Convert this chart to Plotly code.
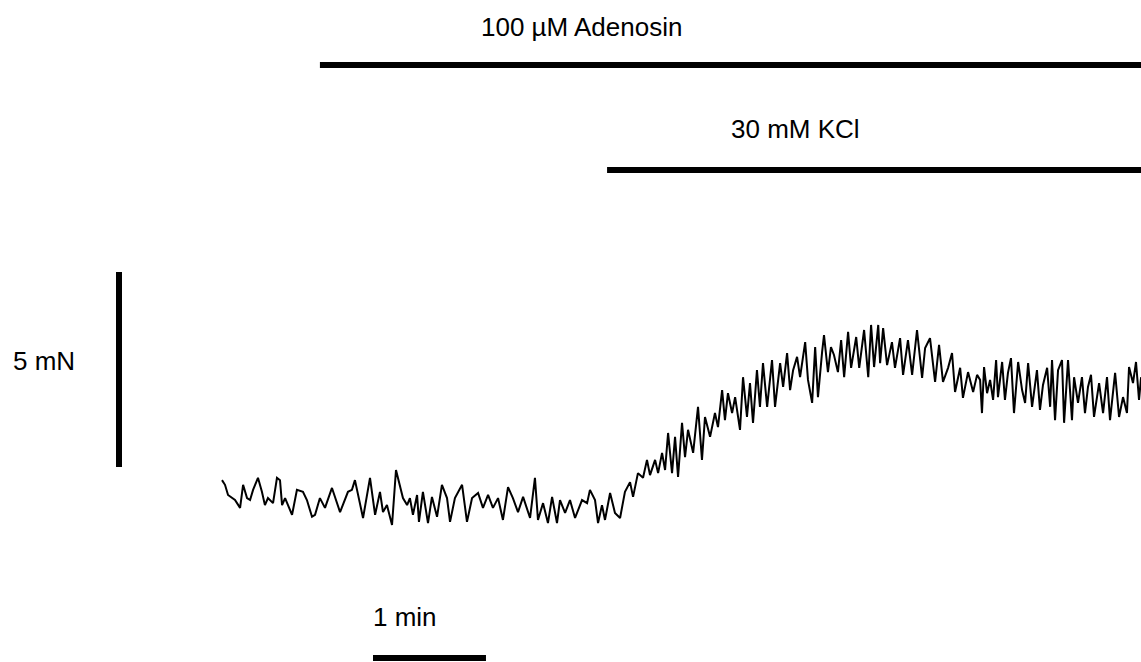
import plotly.graph_objects as go

# ---- data ----
time_s = [
    0.0, 1.6, 3.2, 5.3, 6.9, 9.6, 11.2, 13.3, 14.9, 16.5, 19.1, 21.2, 22.8, 24.4, 27.1, 29.2,
    30.8, 31.9, 33.5, 37.2, 39.8, 43.0, 45.1, 47.8, 49.4, 52.0, 54.7, 58.4, 62.7, 66.9, 69.0,
    70.6, 74.9, 78.6, 81.3, 83.9, 85.5, 87.6, 90.3, 92.4, 94.5, 96.1, 98.3, 99.8, 101.4, 103.6,
    104.6, 106.7, 109.4, 111.5, 114.2, 116.8, 119.5, 121.1, 123.7, 127.5, 130.1, 132.8, 136.0,
    138.6, 141.3, 143.9, 146.6, 149.2, 151.9, 154.5, 157.2, 159.9, 163.6, 166.2, 167.8, 170.5,
    173.1, 175.3, 177.9, 179.5, 182.2, 184.8, 187.5, 191.2, 193.9, 195.4, 198.1, 199.7, 201.8,
    203.4, 206.1, 208.7, 211.4, 214.0, 216.7, 218.3, 220.9, 223.6, 225.7, 227.3, 230.0, 231.6,
    233.7, 235.3, 236.9, 239.0, 240.6, 242.2, 244.3, 245.9, 247.5, 250.2, 252.8, 254.9, 256.5,
    259.2, 261.8, 263.4, 265.6, 267.1, 268.7, 270.9, 272.5, 275.1, 276.7, 278.8, 280.4, 282.0,
    284.1, 285.7, 287.3, 289.5, 292.1, 293.7, 296.4, 298.0, 300.1, 301.7, 303.3, 305.4, 307.0,
    309.7, 311.2, 313.4, 315.0, 316.5, 318.7, 319.7, 321.8, 323.4, 325.0, 327.1, 328.8, 330.4,
    332.5, 334.1, 336.8, 338.4, 341.0, 343.2, 344.7, 346.3, 348.5, 349.5, 351.1, 353.2, 355.8,
    357.4, 360.1, 361.7, 364.3, 366.5, 369.1, 371.8, 373.4, 376.0, 378.7, 380.8, 382.9, 385.6,
    387.7, 389.3, 392.0, 393.5, 396.2, 398.9, 401.0, 402.6, 403.6, 404.7, 406.3, 407.9, 409.5,
    411.1, 412.1, 414.3, 415.8, 417.4, 419.0, 420.6, 422.8, 424.9, 426.5, 428.1, 430.2, 432.8,
    434.4, 436.0, 438.2, 439.8, 440.8, 442.4, 444.0, 446.1, 447.2, 449.3, 451.4, 452.5, 454.6,
    456.7, 458.3, 459.9, 461.5, 463.1, 465.8, 467.9, 470.0, 471.6, 474.3, 476.4, 478.5, 480.6,
    481.7, 483.8, 485.4, 487.0, 488.1,
]
force_mN = [
    1.15, 1.03, 0.77, 0.69, 0.64, 0.44, 1.03, 0.69, 0.64, 0.90, 1.21, 0.85, 0.51, 0.69, 0.56, 1.21,
    1.15, 0.51, 0.69, 0.26, 0.90, 0.85, 0.64, 0.21, 0.26, 0.69, 0.44, 0.95, 0.33, 0.85, 0.90,
    1.15, 0.18, 1.21, 0.26, 0.85, 0.33, 0.51, 0.00, 1.41, 1.03, 0.69, 0.51, 0.69, 0.26, 0.77,
    0.08, 0.85, 0.05, 0.72, 0.21, 1.03, 0.69, 0.08, 0.69, 1.03, 0.08, 0.69, 0.82,
    0.44, 0.77, 0.44, 0.69, 0.13, 0.97, 0.69, 0.33, 0.72, 0.18, 1.21, 0.13, 0.56,
    0.05, 0.72, 0.05, 0.64, 0.31, 0.64, 0.18, 0.64, 0.56, 0.90, 0.64, 0.05, 0.51,
    0.13, 0.82, 0.31, 0.18, 0.85, 1.10, 0.72, 1.33, 1.21, 1.67, 1.28, 1.67, 1.33,
    1.85, 1.41, 2.36, 1.33, 2.26, 1.23, 2.62, 1.74, 2.44, 1.85, 3.03, 1.67, 2.77,
    2.26, 2.87, 2.51, 3.46, 2.69, 3.38, 2.87, 3.28, 2.44, 3.79, 2.77, 3.64, 2.62,
    3.97, 3.03, 4.15, 3.03, 4.23, 3.03, 4.15, 3.54, 4.41, 3.46, 3.97, 4.31, 3.79,
    4.69, 3.72, 3.13, 4.56, 3.28, 4.44, 4.87, 3.92, 4.56, 4.36, 3.92, 4.74, 3.79,
    4.95, 4.03, 4.82, 4.03, 5.00, 3.79, 5.13, 4.05, 5.13, 4.15, 5.05, 4.10, 4.69,
    4.03, 4.79, 3.85, 4.74, 3.85, 5.00, 3.77, 4.54, 4.79, 3.67, 4.62, 3.67, 4.03,
    4.41, 3.41, 4.03, 3.26, 3.92, 3.41, 3.85, 3.72, 2.87, 4.05, 3.38, 3.72, 3.21,
    4.23, 3.28, 4.18, 3.21, 3.90, 4.28, 2.87, 4.18, 3.46, 3.13, 4.15, 3.03, 3.97,
    2.95, 3.59, 4.03, 3.03, 4.23, 2.69, 3.97, 4.23, 2.62, 4.23, 2.69, 3.79, 3.13,
    3.79, 2.87, 3.54, 3.85, 2.77, 3.64, 2.87, 3.79, 2.69, 3.90, 2.77, 3.28, 2.87,
    4.05, 3.64, 4.18, 3.21, 3.79,
]

adenosine_label = "100 µM Adenosin"
kcl_label = "30 mM KCl"
adenosine_on_s = 52.0
kcl_on_s = 204.5
record_end_s = 488.0
scale_time_s = 60.0
scale_time_label = "1 min"
scale_force_mN = 5.0
scale_force_label = "5 mN"

# ---- layout geometry (pixels per unit) ----
W, H = 1141, 662
PX_PER_S = 1.883
PX_PER_MN = 39.0
X0_PX = 222.0      # pixel where t = 0
Y0_PX = 525.0      # pixel (from top) where F = 0


def t_at(px):
    return (px - X0_PX) / PX_PER_S


def f_at(py):
    return (Y0_PX - py) / PX_PER_MN


x_range = [t_at(0), t_at(W)]
y_range = [f_at(H), f_at(0)]

FONT = dict(family="Liberation Sans, Arial, sans-serif", size=26, color="#000000")

fig = go.Figure()

# trace
fig.add_trace(go.Scatter(x=time_s, y=force_mN, mode="lines",
                         line=dict(color="#000000", width=2), hoverinfo="skip"))

# treatment bars
ado_y = f_at(65)
kcl_y = f_at(170)
fig.add_trace(go.Scatter(x=[adenosine_on_s, record_end_s + 5], y=[ado_y, ado_y], mode="lines",
                         line=dict(color="#000000", width=6), hoverinfo="skip"))
fig.add_trace(go.Scatter(x=[kcl_on_s, record_end_s + 5], y=[kcl_y, kcl_y], mode="lines",
                         line=dict(color="#000000", width=6), hoverinfo="skip"))

# scale bars
vb_t = t_at(119)
vb_f0 = f_at(467)
fig.add_trace(go.Scatter(x=[vb_t, vb_t], y=[vb_f0, vb_f0 + scale_force_mN], mode="lines",
                         line=dict(color="#000000", width=6), hoverinfo="skip"))
hb_t0 = t_at(373)
hb_f = f_at(658)
fig.add_trace(go.Scatter(x=[hb_t0, hb_t0 + scale_time_s], y=[hb_f, hb_f], mode="lines",
                         line=dict(color="#000000", width=6), hoverinfo="skip"))

# labels
fig.add_annotation(x=t_at(581), y=f_at(27), text=adenosine_label, showarrow=False, font=FONT)
fig.add_annotation(x=t_at(795), y=f_at(129), text=kcl_label, showarrow=False, font=FONT)
fig.add_annotation(x=t_at(44), y=f_at(361), text=scale_force_label, showarrow=False, font=FONT)
fig.add_annotation(x=t_at(405), y=f_at(617), text=scale_time_label, showarrow=False, font=FONT)

fig.update_layout(
    width=W, height=H,
    margin=dict(l=0, r=0, t=0, b=0),
    paper_bgcolor="#ffffff", plot_bgcolor="#ffffff",
    showlegend=False,
    xaxis=dict(range=x_range, visible=False, fixedrange=True),
    yaxis=dict(range=y_range, visible=False, fixedrange=True),
)

fig.write_html("out.html", config={"displayModeBar": False})
